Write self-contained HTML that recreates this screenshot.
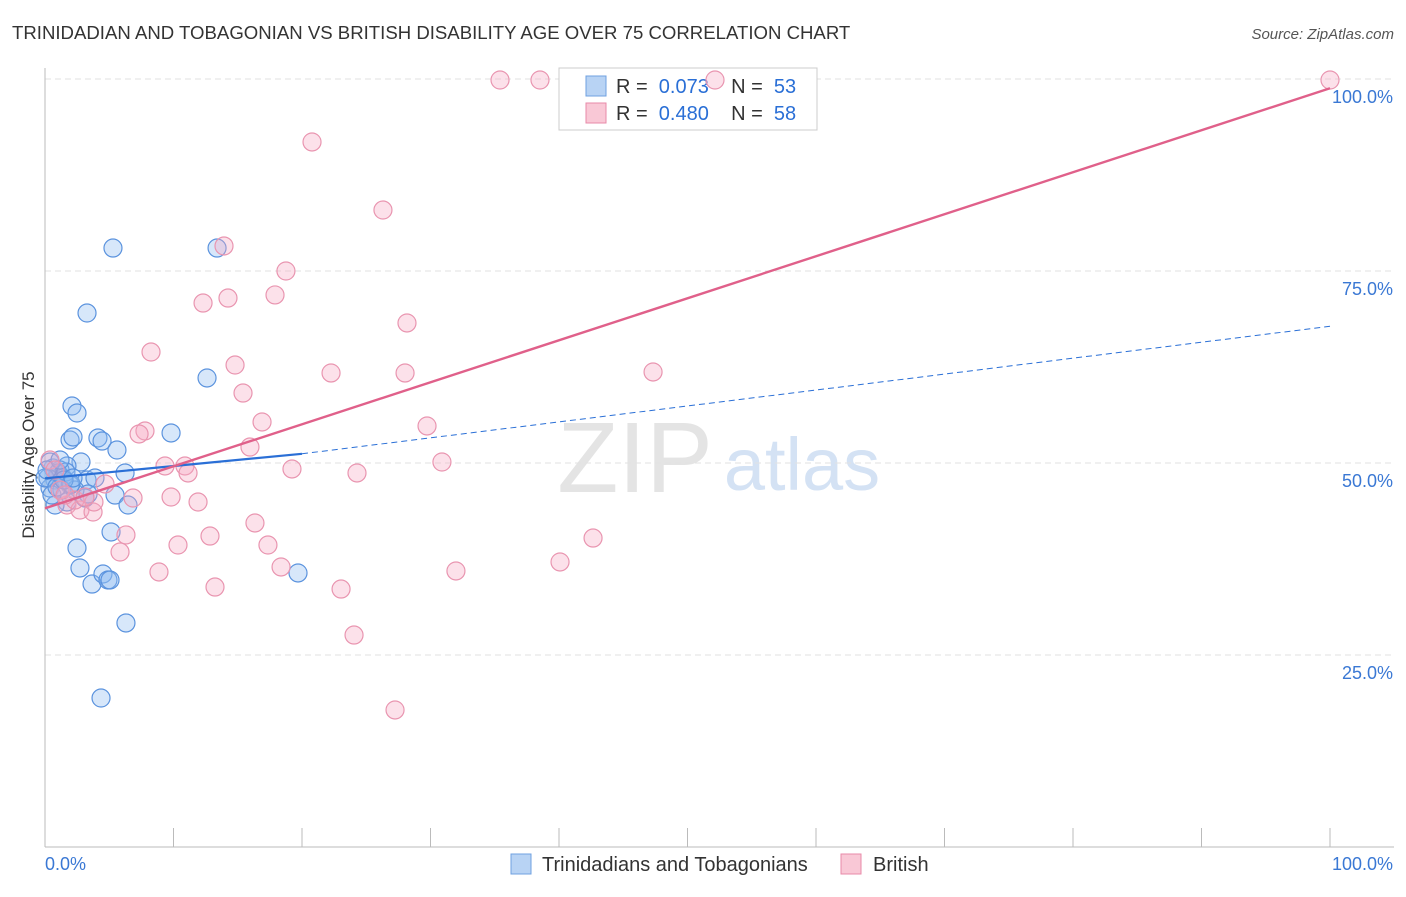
<!DOCTYPE html>
<html><head><meta charset="utf-8">
<style>
body{margin:0;background:#fff;font-family:"Liberation Sans",sans-serif;}
svg text{font-family:"Liberation Sans",sans-serif;}
</style></head>
<body>
<svg width="1406" height="892" id="c">
<text x="12" y="39" font-size="18.6" fill="#333">TRINIDADIAN AND TOBAGONIAN VS BRITISH DISABILITY AGE OVER 75 CORRELATION CHART</text>
<text x="1394" y="39" font-size="15" fill="#555" text-anchor="end" font-style="italic">Source: ZipAtlas.com</text>
<text x="635" y="492" font-size="100" fill="#e4e4e4" font-family="Liberation Serif" text-anchor="middle">ZIP</text>
<text x="802" y="490" font-size="74" fill="#d4e2f4" text-anchor="middle">atlas</text>
<text x="34" y="455" font-size="17" fill="#333" text-anchor="middle" transform="rotate(-90 34 455)">Disability Age Over 75</text>
<g id="grid"></g>
<g>
<rect x="559" y="68" width="258" height="62" fill="#fff" stroke="#ccc"/>
<rect x="586" y="76" width="20" height="20" fill="#b8d3f4" stroke="#6fa0e0"/>
<rect x="586" y="103" width="20" height="20" fill="#f9c8d6" stroke="#e88aa8"/>
<text x="616" y="93" font-size="20" fill="#333" xml:space="preserve">R =  <tspan fill="#2a6fd6">0.073</tspan>    N =  <tspan fill="#2a6fd6">53</tspan></text>
<text x="616" y="120" font-size="20" fill="#333" xml:space="preserve">R =  <tspan fill="#2a6fd6">0.480</tspan>    N =  <tspan fill="#2a6fd6">58</tspan></text>
</g>
<g id="pts"></g><g id="lines"></g>
<g>
<rect x="511" y="854" width="20" height="20" fill="#b8d3f4" stroke="#6fa0e0"/>
<text x="542" y="871" font-size="20" fill="#333">Trinidadians and Tobagonians</text>
<rect x="841" y="854" width="20" height="20" fill="#f9c8d6" stroke="#e88aa8"/>
<text x="873" y="871" font-size="20" fill="#333">British</text>
</g>
</svg>
<script>
const yTicks=[25,50,75,100];
const yTickLabels=["25.0%","50.0%","75.0%","100.0%"];
const xTicks=[0,10,20,30,40,50,60,70,80,90,100];
const bluePx=[[113,248],[217,248],[87,313],[207,378],[72,406],[77,413],[70,440],[73,437],[98,438],[102,441],[117,450],[171,433],[81,462],[67,466],[53,468],[60,470],[55,480],[63,478],[50,488],[70,485],[87,480],[95,478],[125,473],[115,495],[85,498],[67,502],[128,505],[55,505],[111,532],[77,548],[80,568],[92,584],[103,574],[108,580],[110,580],[126,623],[101,698],[298,573],[50,462],[58,473],[48,478],[62,490],[75,490],[45,478],[52,495],[66,472],[88,494],[57,487],[71,484],[47,470],[60,460],[64,480],[73,478]];
const pinkPx=[[500,80],[540,80],[715,80],[1330,80],[312,142],[383,210],[224,246],[286,271],[203,303],[228,298],[275,295],[407,323],[151,352],[235,365],[243,393],[331,373],[405,373],[653,372],[262,422],[427,426],[145,431],[139,434],[250,447],[165,466],[185,466],[188,473],[292,469],[357,473],[442,462],[105,484],[133,498],[171,497],[198,502],[67,505],[80,510],[93,512],[94,502],[255,523],[126,535],[210,536],[178,545],[268,545],[120,552],[593,538],[560,562],[456,571],[159,572],[281,567],[215,587],[341,589],[354,635],[395,710],[50,460],[60,490],[75,500],[85,497],[55,470],[65,495]];
const blueX=bluePx.map(p=>+((p[0]-45)/12.85).toFixed(2));
const blueY=bluePx.map(p=>+((847-p[1])/7.68).toFixed(2));
const pinkX=pinkPx.map(p=>+((p[0]-45)/12.85).toFixed(2));
const pinkY=pinkPx.map(p=>+((847-p[1])/7.68).toFixed(2));
const blueTrend=[[0,48.0],[20,51.2],[100,67.8]];
const pinkTrend=[[0,44.1],[100,98.8]];
const X=v=>45+v*12.85, Y=v=>847-v*7.68;
const NS="http://www.w3.org/2000/svg";
function mk(t,a,p){const e=document.createElementNS(NS,t);for(const k in a)e.setAttribute(k,a[k]);p.appendChild(e);return e;}
const g=document.getElementById('grid');
yTicks.forEach((t,i)=>{
 const l=mk('line',{x1:45,x2:1394,y1:Y(t),y2:Y(t),stroke:'#e2e2e2','stroke-dasharray':'6,4'},g);
 
 
 const tx=mk('text',{x:1393,y:Y(t)+24,'font-size':18,fill:'#3a78d4','text-anchor':'end'},g);
 tx.textContent=yTickLabels[i];
 
 
});
const ax=mk('line',{x1:45,x2:45,y1:68,y2:847,stroke:'#bbb'},g);


const bx=mk('line',{x1:45,x2:1394,y1:847,y2:847,stroke:'#bbb'},g);


xTicks.forEach(t=>{const l=mk('line',{x1:X(t),x2:X(t),y1:828,y2:847,stroke:'#bbb'},g);
 
 });
const x0=mk('text',{x:45,y:870,'font-size':18,fill:'#3a78d4'},g);x0.textContent='0.0%';


const x1=mk('text',{x:1393,y:870,'font-size':18,fill:'#3a78d4','text-anchor':'end'},g);x1.textContent='100.0%';


const P=document.getElementById('pts');
blueX.forEach((x,i)=>{const c=mk('circle',{cx:X(x),cy:Y(blueY[i]),r:9,fill:'rgba(140,185,240,0.35)',stroke:'#5b93de','stroke-width':1.2},P);
 
 });
pinkX.forEach((x,i)=>{const c=mk('circle',{cx:X(x),cy:Y(pinkY[i]),r:9,fill:'rgba(245,170,195,0.35)',stroke:'#e995b0','stroke-width':1.2},P);
 
 });
const L=document.getElementById('lines');
const b1=mk('line',{x1:X(blueTrend[0][0]),y1:Y(blueTrend[0][1]),x2:X(blueTrend[1][0]),y2:Y(blueTrend[1][1]),stroke:'#2a6fd6','stroke-width':2.2},L);


const b2=mk('line',{x1:X(blueTrend[1][0]),y1:Y(blueTrend[1][1]),x2:X(blueTrend[2][0]),y2:Y(blueTrend[2][1]),stroke:'#2a6fd6','stroke-width':1,'stroke-dasharray':'6,4'},L);


const p1=mk('line',{x1:X(pinkTrend[0][0]),y1:Y(pinkTrend[0][1]),x2:X(pinkTrend[1][0]),y2:Y(pinkTrend[1][1]),stroke:'#e0608a','stroke-width':2.4},L);


</script>
</body></html>
